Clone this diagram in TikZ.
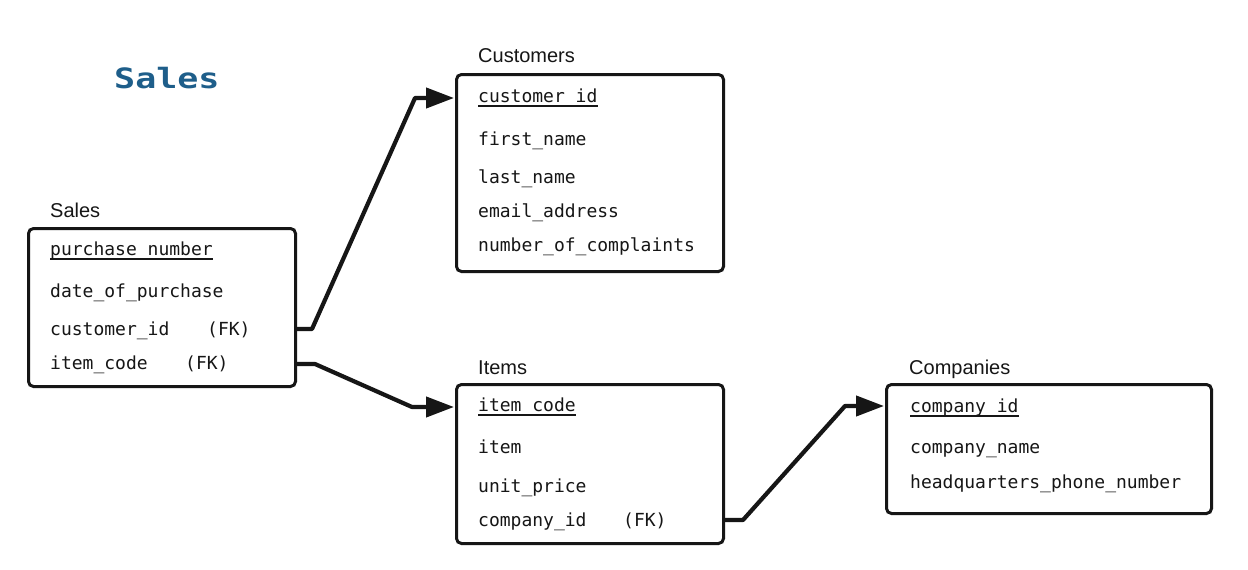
\documentclass[tikz,border=0pt]{standalone}
\usepackage{fontspec}
\setmainfont{Liberation Sans}
\newfontfamily\fieldfont{DejaVu Sans Mono}
\newfontfamily\headfont{DejaVu Sans Mono}[FakeStretch=1.25]
\usetikzlibrary{arrows.meta}
\definecolor{headblue}{RGB}{30,94,138}
\definecolor{ink}{RGB}{22,22,22}

\begin{document}
\begin{tikzpicture}[x=1pt,y=-1pt,
  table/.style={draw=ink, line width=3pt, rounded corners=5pt, inner sep=0pt, anchor=north west},
  title/.style={anchor=base west, inner sep=0pt, font=\fontsize{20}{24}\selectfont, text=ink},
  field/.style={anchor=base west, inner sep=0pt, font=\fieldfont\fontsize{18}{22}\selectfont, text=ink},
  pkline/.style={line width=2pt, draw=ink},
  link/.style={draw=ink, line width=4.2pt, line join=round, -{Triangle[length=28pt,width=20pt]}}
]
\useasboundingbox (0,0) rectangle (1248,570);
\fill[white] (0,0) rectangle (1248,570);

% heading
\node[anchor=base west, inner sep=0pt, text=headblue,
      font=\headfont\bfseries\fontsize{28}{30}\selectfont] (heading) at (114,88) {Sales};

% ---------- Sales ----------
\node[title] (tsales) at (50,217) {Sales};
\node[table, minimum width=267pt, minimum height=158pt] (sales) at (27,227) {};
\node[field] (spk) at (50,255) {purchase\_number};
\node[field] (sdate) at (50,297) {date\_of\_purchase};
\node[field] (scust) at (50,335) {customer\_id};
\node[field] (scustfk) at (207,335) {(FK)};
\node[field] (sitem) at (50,369) {item\_code};
\node[field] (sitemfk) at (185,369) {(FK)};

% ---------- Customers ----------
\node[title] (tcust) at (478,62) {Customers};
\node[table, minimum width=267pt, minimum height=197pt] (customers) at (455,73) {};
\node[field] (cpk) at (478,102) {customer\_id};
\node[field] (cfirst) at (478,145) {first\_name};
\node[field] (clast) at (478,183) {last\_name};
\node[field] (cmail) at (478,217) {email\_address};
\node[field] (ccompl) at (478,251) {number\_of\_complaints};

% ---------- Items ----------
\node[title] (titems) at (478,374) {Items};
\node[table, minimum width=267pt, minimum height=159pt] (items) at (455,383) {};
\node[field] (ipk) at (478,411) {item\_code};
\node[field] (iitem) at (478,453) {item};
\node[field] (iprice) at (478,492) {unit\_price};
\node[field] (icomp) at (478,526) {company\_id};
\node[field] (icompfk) at (623,526) {(FK)};

% ---------- Companies ----------
\node[title] (tcomp) at (909,374) {Companies};
\node[table, minimum width=325pt, minimum height=129pt] (companies) at (885,383) {};
\node[field] (kpk) at (910,412) {company\_id};
\node[field] (kname) at (910,453) {company\_name};
\node[field] (kphone) at (910,488) {headquarters\_phone\_number};

% primary key underlines
\foreach \k in {spk,cpk,ipk,kpk}
  \draw[pkline] ([yshift=-3.8pt]\k.base west) -- ([yshift=-3.8pt]\k.base east);

% foreign key links
\draw[link] ([yshift=6pt]sales.east |- scust.base) -- ++(15,0)
  -- ([xshift=-40pt,yshift=4pt]customers.west |- cpk.base)
  -- ([xshift=-1pt,yshift=4pt]customers.west |- cpk.base);
\draw[link] ([yshift=5pt]sales.east |- sitem.base) -- ++(18,0)
  -- ([xshift=-43pt,yshift=4pt]items.west |- ipk.base)
  -- ([xshift=-1pt,yshift=4pt]items.west |- ipk.base);
\draw[link] ([yshift=6pt]items.east |- icomp.base) -- ++(18,0)
  -- ([xshift=-40pt,yshift=6pt]companies.west |- kpk.base)
  -- ([xshift=-1pt,yshift=6pt]companies.west |- kpk.base);
\end{tikzpicture}
\end{document}
